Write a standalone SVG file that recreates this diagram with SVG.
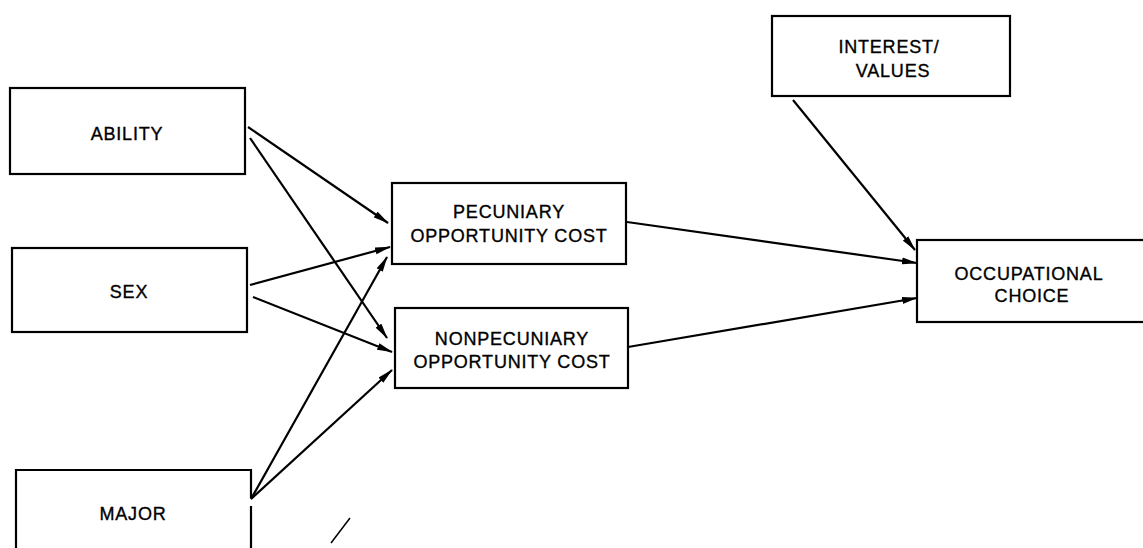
<svg xmlns="http://www.w3.org/2000/svg" width="1143" height="548" viewBox="0 0 1143 548">
<style>
.box{fill:#fff;stroke:#000;stroke-width:2.2}
.lbl{font-family:"Liberation Sans",Arial,sans-serif;font-size:18px;fill:#000;stroke:#000;stroke-width:0.35;text-anchor:middle;letter-spacing:0.8px}
.edge{stroke:#000;stroke-width:2.2;fill:none;marker-end:url(#ah)}
</style>
<defs>
<marker id="ah" viewBox="0 0 16 8" refX="15" refY="4" markerWidth="16" markerHeight="8" markerUnits="userSpaceOnUse" orient="auto">
<path d="M0,0.5 L16,4 L0,7.5 Z" fill="#000"/>
</marker>
</defs>
<rect width="1143" height="548" fill="#fff"/>
<g id="ability">
<rect class="box" x="10" y="88" width="235" height="86"/>
<text class="lbl" x="127" y="140">ABILITY</text>
</g>
<g id="sex">
<rect class="box" x="12" y="248" width="235" height="84"/>
<text class="lbl" x="129" y="298">SEX</text>
</g>
<g id="major">
<path class="box" d="M251,548 L251,506 M251,498 L251,470 L16,470 L16,548"/>
<text class="lbl" x="133" y="520">MAJOR</text>
</g>
<g id="pecuniary">
<rect class="box" x="392" y="183" width="234" height="81"/>
<text class="lbl" x="509" y="218">PECUNIARY</text>
<text class="lbl" x="509" y="242">OPPORTUNITY COST</text>
</g>
<g id="nonpecuniary">
<rect class="box" x="395" y="308" width="233" height="80"/>
<text class="lbl" x="512" y="345">NONPECUNIARY</text>
<text class="lbl" x="512" y="368">OPPORTUNITY COST</text>
</g>
<g id="interest">
<rect class="box" x="772" y="16" width="238" height="80"/>
<text class="lbl" x="889" y="53">INTEREST/</text>
<text class="lbl" x="893" y="77">VALUES</text>
</g>
<g id="occupational">
<rect class="box" x="917" y="240" width="240" height="82"/>
<text class="lbl" x="1029" y="280">OCCUPATIONAL</text>
<text class="lbl" x="1032" y="302">CHOICE</text>
</g>
<g id="connectors">
<line class="edge" x1="248" y1="127" x2="388" y2="223"/>
<line class="edge" x1="250" y1="138" x2="387" y2="338"/>
<line class="edge" x1="250" y1="285" x2="390" y2="247"/>
<line class="edge" x1="253" y1="297" x2="392" y2="352"/>
<line class="edge" x1="251" y1="499" x2="387" y2="257"/>
<line class="edge" x1="251" y1="499" x2="392" y2="370"/>
<line class="edge" x1="627" y1="222" x2="917" y2="263"/>
<line class="edge" x1="628" y1="347" x2="917" y2="298"/>
<line class="edge" x1="793" y1="100" x2="915" y2="250"/>
<line x1="350" y1="518" x2="331" y2="543" stroke="#000" stroke-width="1.5"/>
</g>
</svg>
